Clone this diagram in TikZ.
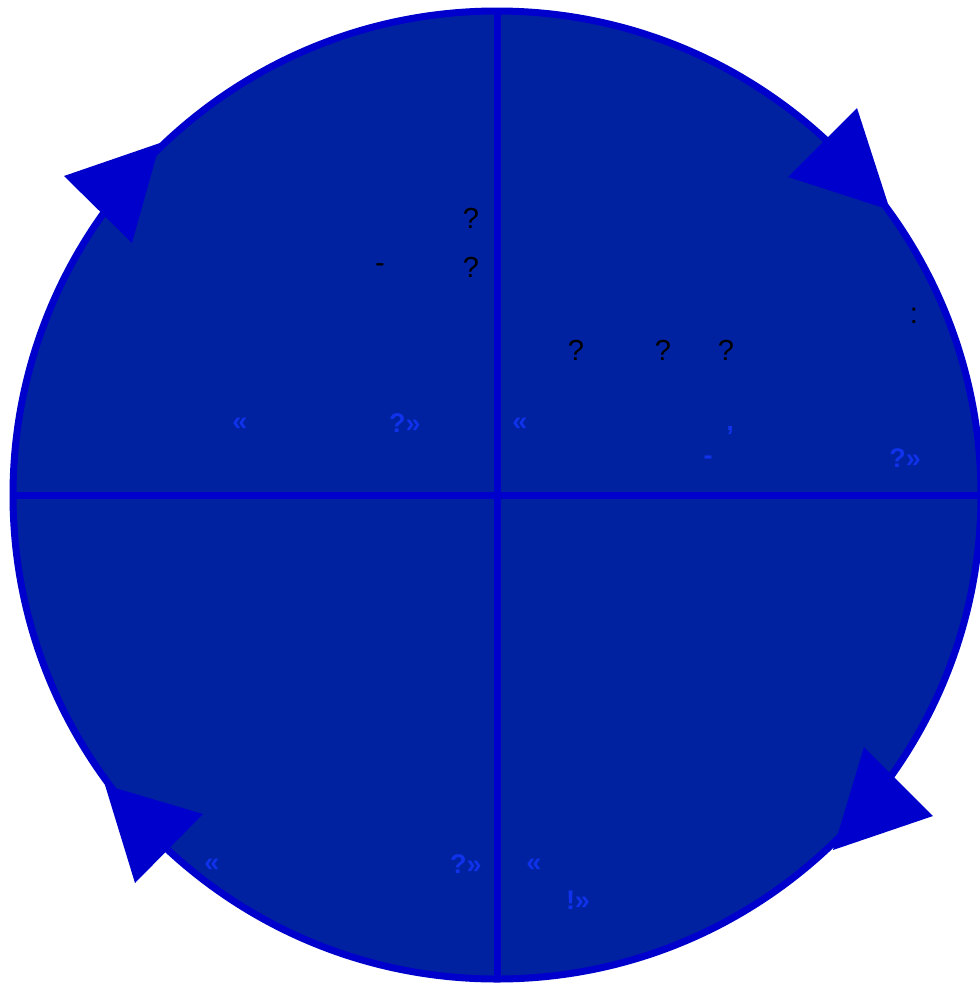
\documentclass[tikz,border=0pt]{standalone}
\usepackage{fontspec}
\setmainfont{Liberation Sans}
\usetikzlibrary{positioning}

\definecolor{ringblue}{HTML}{0000CC}
\definecolor{diskblue}{HTML}{0022A0}
\definecolor{labelblue}{HTML}{0F32EA}

\begin{document}
\begin{tikzpicture}[
    x=1pt, y=-1pt,
    ring/.style={draw=ringblue, line width=7pt},
    tip/.style={fill=ringblue},
    note/.style={text=black, inner sep=0pt,
      font=\fontsize{29}{33}\selectfont},
    quote/.style={text=labelblue, inner sep=0pt,
      font=\bfseries\fontsize{27}{31}\selectfont}
  ]
  \useasboundingbox (0,0) rectangle (980,986);

  % the wheel
  \coordinate (c) at (497,495);
  \coordinate (n) at (497,11);
  \coordinate (s) at (497,979);
  \coordinate (w) at (13,495);
  \coordinate (e) at (981,495);
  \draw[ring, fill=diskblue] (c) circle[radius=484];
  \draw[ring] (n) -- (s);
  \draw[ring] (w) -- (e);

  % arrow heads, clockwise
  \fill[tip] (160,143) -- (64,176) -- (132,243) -- cycle;
  \fill[tip] (857,108) -- (788,177) -- (890,210) -- cycle;
  \fill[tip] (864,747) -- (933,816) -- (833,850) -- cycle;
  \fill[tip] (105,785) -- (203,814) -- (135,883) -- cycle;

  % upper left
  \node[note] (q1) at (471,218) {?};
  \node[note] (d1) at (380,268) {-};
  \node[note] (q2) at (471,267) {?};
  \node[quote] (o1) at (240,424) {«};
  \node[quote] (c1) at (405,423) {?»};

  % upper right
  \node[note] (k1) at (914,316) {:};
  \node[note] (q3) at (576,350) {?};
  \node[note] (q4) at (663,350) {?};
  \node[note] (q5) at (726,350) {?};
  \node[quote] (o2) at (520,424) {«};
  \node[quote] (m2) at (730,431) {,};
  \node[quote] (d2) at (708,460) {-};
  \node[quote] (c2) at (905,458) {?»};

  % lower half
  \node[quote] (o3) at (212,865) {«};
  \node[quote] (c3) at (466,864) {?»};
  \node[quote] (o4) at (534,865) {«};
  \node[quote] (c4) at (578,900) {!»};
\end{tikzpicture}
\end{document}
